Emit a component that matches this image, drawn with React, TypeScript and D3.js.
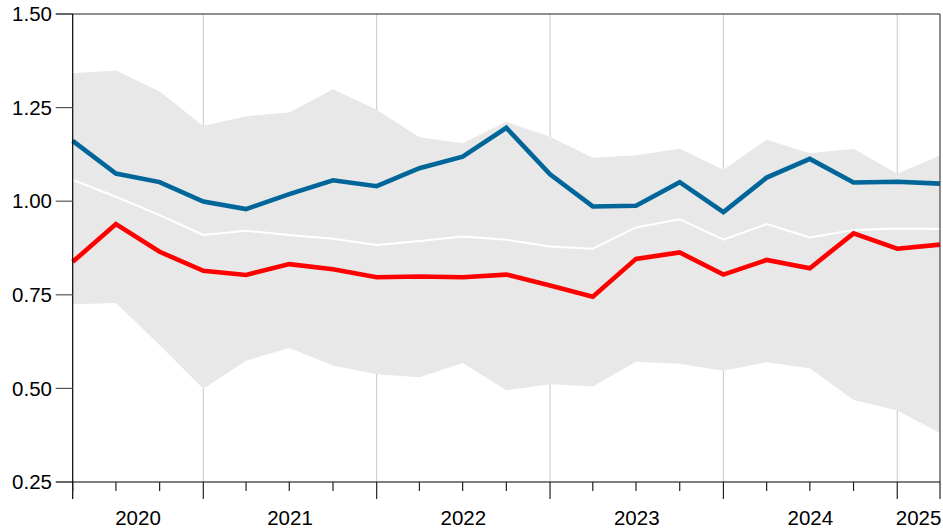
import React from 'react'
import * as d3 from 'd3'

// quarter start dates, Q2 2020 .. Q2 2025
const quarters = [
  '2020-04-01', '2020-07-01', '2020-10-01',
  '2021-01-01', '2021-04-01', '2021-07-01', '2021-10-01',
  '2022-01-01', '2022-04-01', '2022-07-01', '2022-10-01',
  '2023-01-01', '2023-04-01', '2023-07-01', '2023-10-01',
  '2024-01-01', '2024-04-01', '2024-07-01', '2024-10-01',
  '2025-01-01', '2025-04-01'
]

const bandUpper = [1.342, 1.349, 1.293, 1.201, 1.227, 1.237, 1.299, 1.244, 1.171, 1.155, 1.212,
  1.172, 1.116, 1.123, 1.14, 1.084, 1.164, 1.128, 1.14, 1.073, 1.122]
const bandLower = [0.725, 0.728, 0.616, 0.499, 0.574, 0.608, 0.561, 0.538, 0.53, 0.568, 0.495,
  0.511, 0.505, 0.571, 0.566, 0.547, 0.57, 0.554, 0.469, 0.441, 0.381]
const median = [1.057, 1.012, 0.963, 0.91, 0.921, 0.91, 0.9, 0.883, 0.894, 0.906, 0.897,
  0.879, 0.873, 0.93, 0.952, 0.897, 0.939, 0.903, 0.923, 0.927, 0.926]
const blueSeries = [1.161, 1.074, 1.051, 0.999, 0.979, 1.019, 1.056, 1.04, 1.088, 1.119, 1.196,
  1.072, 0.986, 0.988, 1.051, 0.971, 1.063, 1.113, 1.05, 1.052, 1.047]
const redSeries = [0.838, 0.939, 0.865, 0.814, 0.803, 0.832, 0.818, 0.797, 0.799, 0.797, 0.804,
  0.775, 0.745, 0.846, 0.863, 0.804, 0.843, 0.821, 0.914, 0.873, 0.884]

const yTicks = [0.25, 0.5, 0.75, 1.0, 1.25, 1.5]

const font = 'Arial, "Liberation Sans", sans-serif'

const App = () => {
  const width = 943
  const height = 530
  const margin = { top: 14, right: 3, bottom: 48, left: 72.7 }
  const innerRight = width - margin.right
  const innerBottom = height - margin.bottom

  const dates = quarters.map((q) => new Date(q + 'T00:00:00'))

  const x = d3.scaleTime()
    .domain([dates[0], dates[dates.length - 1]])
    .range([margin.left, innerRight])
  const y = d3.scaleLinear()
    .domain([0.25, 1.5])
    .range([innerBottom, margin.top])

  const area = d3.area<number>()
    .x((_, i) => x(dates[i]))
    .y0((_, i) => y(bandLower[i]))
    .y1((_, i) => y(bandUpper[i]))

  const line = (vals: number[]) =>
    d3.line<number>()
      .x((_, i) => x(dates[i]))
      .y((d) => y(d))(vals)

  const yearTicks = d3.timeYear.range(dates[0], d3.timeDay.offset(dates[dates.length - 1], 1))
  const quarterTicks = d3.timeMonth.every(3)!.range(dates[0], d3.timeDay.offset(dates[dates.length - 1], 1))

  // year label sits in the middle of the visible part of each year
  const years = [2020, 2021, 2022, 2023, 2024, 2025]
  const yearLabelX = (yr: number) => {
    const a = Math.max(x(new Date(yr, 0, 1)), margin.left)
    const b = Math.min(x(new Date(yr + 1, 0, 1)), innerRight)
    return (a + b) / 2
  }

  return (
    <svg width={width} height={height} style={{ position: 'absolute', left: 0, top: 0 }}
      fontFamily={font}>
      {/* year gridlines */}
      {yearTicks.map((d) => (
        <line key={'g' + d.getTime()} x1={x(d)} x2={x(d)} y1={margin.top} y2={innerBottom}
          stroke="#c8c8c8" strokeWidth={1} />
      ))}

      <path d={area(bandUpper) ?? ''} fill="#e8e8e8" />
      <path d={line(median) ?? ''} fill="none" stroke="#ffffff" strokeWidth={2} />
      <path d={line(blueSeries) ?? ''} fill="none" stroke="#006699" strokeWidth={4.6} />
      <path d={line(redSeries) ?? ''} fill="none" stroke="#ff0000" strokeWidth={4.6} />

      {/* frame */}
      <line x1={margin.left} x2={innerRight} y1={margin.top} y2={margin.top} stroke="#222" strokeWidth={1.2} />
      <line x1={innerRight} x2={innerRight} y1={margin.top} y2={innerBottom} stroke="#444" strokeWidth={1.2} />
      <line x1={margin.left} x2={margin.left} y1={margin.top} y2={innerBottom + 17} stroke="#000" strokeWidth={1.2} />
      <line x1={margin.left} x2={innerRight} y1={innerBottom} y2={innerBottom} stroke="#000" strokeWidth={1.2} />

      {/* y axis */}
      {yTicks.map((t) => (
        <g key={'y' + t}>
          <line x1={margin.left - 17} x2={margin.left} y1={y(t)} y2={y(t)}
            stroke={t === 0.25 || t === 1.5 ? '#000' : '#555'} strokeWidth={1.2} />
          <text x={52} y={y(t)} dy="0.35em" textAnchor="end" fontSize={20.5} fill="#000">
            {t.toFixed(2)}
          </text>
        </g>
      ))}

      {/* x axis ticks */}
      {quarterTicks.map((d) => {
        const isYear = d.getMonth() === 0
        const isEnd = d.getTime() === dates[dates.length - 1].getTime()
        return (
          <line key={'q' + d.getTime()} x1={x(d)} x2={x(d)} y1={innerBottom}
            y2={innerBottom + (isYear || isEnd ? 17 : 9)} stroke="#222" strokeWidth={1.2} />
        )
      })}
      {years.map((yr) => (
        <text key={'t' + yr} x={yearLabelX(yr)} y={525} textAnchor="middle" fontSize={20.5} fill="#000">
          {yr}
        </text>
      ))}
    </svg>
  )
}

export default App
